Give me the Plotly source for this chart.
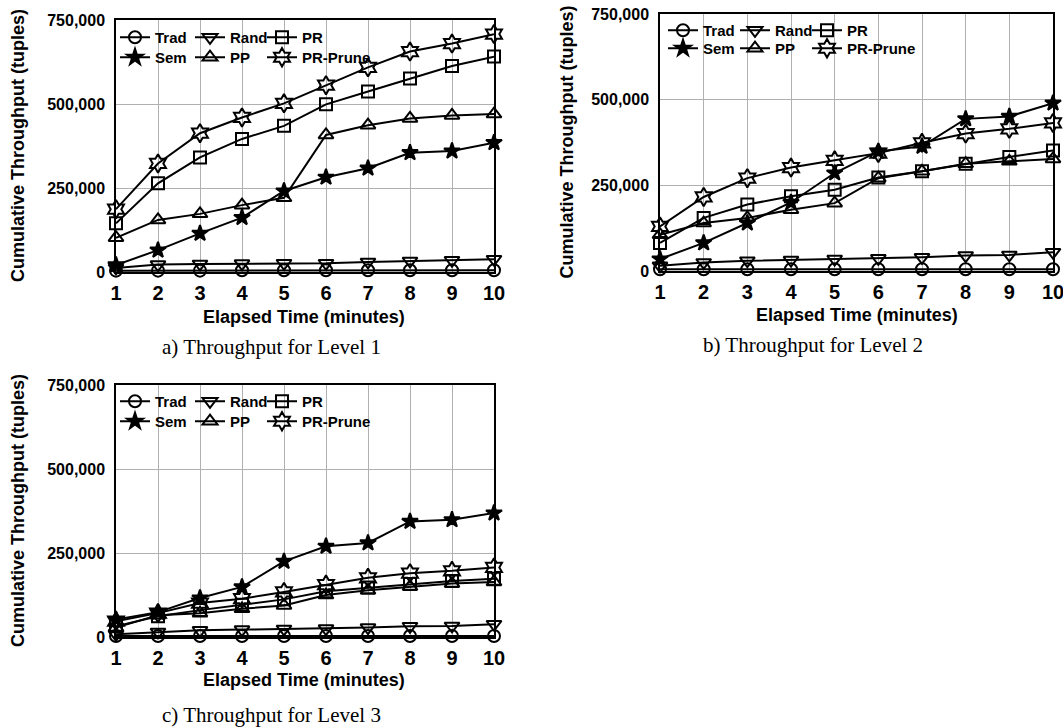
import plotly.graph_objects as go

minutes = [1, 2, 3, 4, 5, 6, 7, 8, 9, 10]
series_names = ["Trad", "Sem", "Rand", "PP", "PR", "PR-Prune"]
symbols = {"Trad": "circle-open", "Rand": "triangle-down-open", "PR": "square-open",
           "Sem": "star", "PP": "triangle-up-open", "PR-Prune": "hexagram-open"}
sizes = {"Trad": 12, "Rand": 13, "PR": 12, "Sem": 12, "PP": 13, "PR-Prune": 14}

# Level 1
l1_trad = [4000, 4000, 4000, 5000, 5000, 5000, 5000, 5000, 5000, 5000]
l1_rand = [12000, 22000, 24000, 25000, 26000, 26000, 30000, 33000, 35000, 38000]
l1_pr = [145000, 264000, 341000, 396000, 435000, 499000, 537000, 576000, 613000, 641000]
l1_sem = [21000, 65000, 115000, 162000, 241000, 282000, 309000, 355000, 360000, 385000]
l1_pp = [102000, 155000, 173000, 199000, 221000, 408000, 437000, 457000, 466000, 470000]
l1_prune = [187000, 323000, 413000, 460000, 502000, 556000, 609000, 656000, 680000, 708000]

# Level 2
l2_trad = [5000, 5000, 5000, 5000, 5000, 5000, 5000, 5000, 5000, 5000]
l2_rand = [15000, 25000, 30000, 32000, 35000, 37000, 40000, 45000, 47000, 55000]
l2_pr = [82000, 155000, 194000, 218000, 237000, 273000, 291000, 313000, 333000, 352000]
l2_sem = [35000, 82000, 140000, 200000, 286000, 349000, 364000, 444000, 451000, 490000]
l2_pp = [106000, 140000, 155000, 179000, 198000, 271000, 291000, 313000, 320000, 327000]
l2_prune = [130000, 216000, 271000, 302000, 323000, 344000, 374000, 401000, 415000, 432000]

# Level 3
l3_trad = [3000, 3000, 3000, 3000, 3000, 3000, 3000, 3000, 3000, 3000]
l3_rand = [8000, 15000, 20000, 22000, 24000, 25000, 28000, 32000, 33000, 38000]
l3_pr = [32000, 62000, 80000, 96000, 112000, 136000, 147000, 158000, 167000, 173000]
l3_sem = [52000, 74000, 116000, 149000, 225000, 270000, 280000, 344000, 349000, 369000]
l3_pp = [28000, 65000, 71000, 84000, 94000, 125000, 139000, 150000, 159000, 164000]
l3_prune = [47000, 71000, 101000, 114000, 134000, 156000, 176000, 190000, 197000, 207000]

levels = [
    {"Trad": l1_trad, "Rand": l1_rand, "PR": l1_pr, "Sem": l1_sem, "PP": l1_pp, "PR-Prune": l1_prune},
    {"Trad": l2_trad, "Rand": l2_rand, "PR": l2_pr, "Sem": l2_sem, "PP": l2_pp, "PR-Prune": l2_prune},
    {"Trad": l3_trad, "Rand": l3_rand, "PR": l3_pr, "Sem": l3_sem, "PP": l3_pp, "PR-Prune": l3_prune},
]
y_ticks = [0, 250000, 500000, 750000]
captions = ["a) Throughput for Level 1", "b) Throughput for Level 2", "c) Throughput for Level 3"]

W, H = 1063, 727
def px(x):
    return x / W
def py(y):
    return 1 - y / H

# panel geometry in pixels: left, right, top, bottom
panels = [(116, 494, 20, 272), (660, 1053, 14, 271), (116, 494, 385, 637)]
# legend slots (column, row) for each series
legend_slot = {"Trad": (0, 0), "Sem": (0, 1), "Rand": (1, 0), "PP": (1, 1), "PR": (2, 0), "PR-Prune": (2, 1)}
col_off = [[19, 94, 166], [23, 95, 167], [19, 94, 166]]
row_off = [[17, 37], [16, 34], [16, 36]]
ICON_DX, ICON_DY = 20, 16
caption_pos = [(271, 347), (813, 345), (271, 715)]
xtitle_pos = [(304, 317), (857, 315), (304, 680)]
ytitle_x = [18, 566, 18]

BOLD = "Liberation Sans, Arial, sans-serif"
fig = go.Figure()
layout = {}
annotations = []
lg_counter = 0
for i, (data, (l, r, t, b)) in enumerate(zip(levels, panels)):
    xa = "x" if i == 0 else f"x{i+1}"
    ya = "y" if i == 0 else f"y{i+1}"
    for name in series_names:
        lg_counter += 1
        lg = "legend" if lg_counter == 1 else f"legend{lg_counter}"
        fig.add_trace(go.Scatter(
            x=minutes, y=data[name], name=name, mode="lines+markers",
            xaxis=xa, yaxis=ya, legend=lg, cliponaxis=False,
            line=dict(color="black", width=2),
            marker=dict(symbol=symbols[name], size=sizes[name], color="black",
                        line=dict(color="black", width=2)),
        ))
        c, rw = legend_slot[name]
        cx = l + col_off[i][c]
        cy = t + row_off[i][rw]
        layout[lg] = dict(x=px(cx - ICON_DX), y=py(cy - ICON_DY),
                          xanchor="left", yanchor="top", bgcolor="rgba(0,0,0,0)",
                          borderwidth=0, itemwidth=30,
                          font=dict(family=BOLD, size=15, color="black", weight="bold"))
    axkey = "xaxis" if i == 0 else f"xaxis{i+1}"
    aykey = "yaxis" if i == 0 else f"yaxis{i+1}"
    layout[axkey] = dict(domain=[px(l), px(r)], anchor=ya, range=[1, 10], automargin=False,
                         tickvals=minutes, showgrid=True, gridcolor="#b0b0b0", gridwidth=1,
                         showline=True, linecolor="black", linewidth=1.5, mirror=True,
                         zeroline=False, ticks="", ticklabelstandoff=2,
                         ticklabeloverflow="allow",
                         tickfont=dict(family=BOLD, size=20, color="black", weight="bold"))
    layout[aykey] = dict(domain=[py(b), py(t)], anchor=xa, range=[0, 750000], automargin=False,
                         tickvals=y_ticks, tickformat=",d", showgrid=True,
                         gridcolor="#b0b0b0", gridwidth=1,
                         showline=True, linecolor="black", linewidth=1.5, mirror=True,
                         zeroline=False, ticks="", ticklabelstandoff=6,
                         ticklabeloverflow="allow",
                         tickfont=dict(family=BOLD, size=16, color="black", weight="bold"))
    annotations.append(dict(text="Elapsed Time (minutes)", x=px(xtitle_pos[i][0]), y=py(xtitle_pos[i][1]),
                            xref="paper", yref="paper", showarrow=False,
                            xanchor="center", yanchor="middle",
                            font=dict(family=BOLD, size=18, color="black", weight="bold")))
    annotations.append(dict(text="Cumulative Throughput (tuples)", x=px(ytitle_x[i]), y=py((t + b) / 2),
                            xref="paper", yref="paper", showarrow=False, textangle=-90,
                            xanchor="center", yanchor="middle",
                            font=dict(family=BOLD, size=18, color="black", weight="bold")))
    annotations.append(dict(text=captions[i], x=px(caption_pos[i][0]), y=py(caption_pos[i][1]),
                            xref="paper", yref="paper", showarrow=False,
                            xanchor="center", yanchor="middle",
                            font=dict(family="Liberation Serif, Times New Roman, serif",
                                      size=21, color="black")))

fig.update_layout(width=W, height=H, margin=dict(l=0, r=0, t=0, b=0, autoexpand=False),
                  paper_bgcolor="white", plot_bgcolor="white", showlegend=True,
                  annotations=annotations, **layout)
fig.write_html("out.html", config={"displayModeBar": False},
               post_script="document.body.style.margin='0';")
